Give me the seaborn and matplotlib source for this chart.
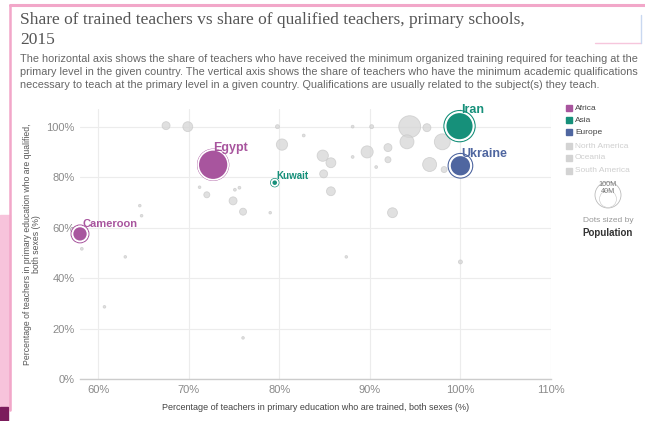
import numpy as np
import pandas as pd
import matplotlib
matplotlib.use("Agg")
import matplotlib.pyplot as plt
from matplotlib.patches import Rectangle, Circle
from matplotlib.lines import Line2D
import seaborn as sns

# highlighted countries
hl_names = ["Egypt", "Iran", "Ukraine", "Cameroon", "Kuwait"]
hl_trained = [72.7, 99.9, 100.0, 58.0, 79.5]
hl_qualified = [84.9, 100.2, 84.5, 57.5, 77.8]
hl_pop = [92, 79, 45, 23, 4]
hl_region = ["Africa", "Asia", "Europe", "Africa", "Asia"]

# all other countries (greyed out)
other_trained = [67.5, 69.9, 79.8, 82.7, 80.3, 84.8, 84.9, 71.2, 72.0, 75.1,
                 75.6, 74.9, 76.0, 79.0, 85.7, 94.4, 96.3, 94.1, 98.0, 88.1,
                 90.2, 92.0, 89.7, 85.7, 88.1, 92.0, 90.7, 96.6, 98.2, 92.5,
                 100.0, 87.4, 64.6, 64.8, 58.2, 63.0, 60.7, 76.0]
other_qualified = [100.4, 100.0, 100.0, 96.5, 92.9, 88.5, 81.3, 76.0, 73.0, 75.0,
                   75.8, 70.6, 66.3, 65.9, 74.4, 100.0, 99.6, 94.0, 94.0, 100.0,
                   100.0, 91.7, 90.0, 85.7, 88.0, 86.9, 84.0, 85.0, 83.0, 65.9,
                   46.4, 48.4, 68.7, 64.7, 51.6, 48.4, 28.6, 16.3]
other_pop = [6.5, 10, 1.6, 0.8, 13, 13, 6.5, 0.7, 3.7, 0.8,
             0.8, 6.5, 5, 0.7, 8, 49, 6.5, 20, 26, 0.8,
             1.6, 6.5, 15, 10, 0.8, 3.7, 0.8, 20, 3.7, 10,
             1.6, 0.7, 0.7, 0.7, 0.8, 0.7, 0.7, 0.7]

regions = ["Africa", "Asia", "Europe", "North America", "Oceania", "South America"]
region_colors = {"Africa": "#a8559e", "Asia": "#16907a", "Europe": "#4f66a0"}
x_ticks = [60, 70, 80, 90, 100, 110]
y_ticks = [0, 20, 40, 60, 80, 100]

hl = pd.DataFrame({"name": hl_names, "trained": hl_trained,
                   "qualified": hl_qualified, "pop": hl_pop, "region": hl_region})
other = pd.DataFrame({"trained": other_trained, "qualified": other_qualified,
                      "pop": other_pop})

sns.set_theme(style="whitegrid")
plt.rcParams["font.family"] = ["Liberation Sans", "DejaVu Sans"]

fig = plt.figure(figsize=(6.45, 4.21), dpi=100)
ax = fig.add_axes([80 / 645, 42 / 421, 471 / 645, 270 / 421])

# area of marker proportional to population
size_max = 506
sns.scatterplot(data=other, x="trained", y="qualified", size="pop",
                sizes=(0, size_max), size_norm=(0, 100), color="#d6d6d6",
                alpha=0.75, edgecolor="#c9c9c9", linewidth=0.6, legend=False,
                ax=ax, zorder=2, clip_on=False)

# outer ring
ring = hl.assign(pop=hl["pop"] * 1.35 + 1.5)
sns.scatterplot(data=ring, x="trained", y="qualified", size="pop",
                sizes=(0, size_max), size_norm=(0, 100), hue="region",
                palette=region_colors, legend=False, ax=ax, zorder=3,
                clip_on=False)
ring_coll = ax.collections[-1]
ring_coll.set_facecolor("none")
ring_coll.set_edgecolor([region_colors[r] for r in hl_region])
ring_coll.set_linewidth(0.8)

sns.scatterplot(data=hl, x="trained", y="qualified", size="pop",
                sizes=(0, size_max), size_norm=(0, 100), hue="region",
                palette=region_colors, edgecolor="white", linewidth=1.2,
                legend=False, ax=ax, zorder=4, clip_on=False)

label_pos = {"Egypt": (72.7, 89.0, 9), "Iran": (100.1, 104.3, 9),
             "Ukraine": (100.1, 86.6, 9), "Cameroon": (58.3, 59.4, 8),
             "Kuwait": (79.7, 78.3, 7)}
for name, region in zip(hl_names, hl_region):
    lx, ly, fs = label_pos[name]
    ax.text(lx, ly, name, color=region_colors[region], fontsize=fs,
            fontweight="bold", ha="left", va="bottom", zorder=5)

ax.set_xlim(58, 110)
ax.set_ylim(0, 107)
ax.set_xticks(x_ticks)
ax.set_yticks(y_ticks)
ax.set_xticklabels([f"{t}%" for t in x_ticks])
ax.set_yticklabels([f"{t}%" for t in y_ticks])
ax.tick_params(axis="both", labelsize=8, labelcolor="#8a8a8a", length=0, pad=4)
ax.grid(color="#ececec", linewidth=0.8)
for side in ["top", "right", "left"]:
    ax.spines[side].set_visible(False)
ax.spines["bottom"].set_color("#cccccc")
ax.spines["bottom"].set_linewidth(1.0)
ax.set_facecolor("white")

ax.set_xlabel("Percentage of teachers in primary education who are trained, both sexes (%)",
              fontsize=6.5, color="#444444", labelpad=6)
ax.set_ylabel("Percentage of teachers in primary education who are qualified,\nboth sexes (%)",
              fontsize=6.2, color="#555555", linespacing=1.0)
ax.yaxis.set_label_coords(-0.082, 0.5)

# title and subtitle
serif = ["Liberation Serif", "DejaVu Serif"]
fig.text(20 / 645, 1 - 20 / 421,
         "Share of trained teachers vs share of qualified teachers, primary schools,",
         fontsize=12.5, color="#555555", family=serif, va="center", ha="left")
fig.text(20 / 645, 1 - 40 / 421, "2015", fontsize=12.5, color="#555555",
         family=serif, va="center", ha="left")
sub_lines = [
    "The horizontal axis shows the share of teachers who have received the minimum organized training required for teaching at the",
    "primary level in the given country. The vertical axis shows the share of teachers who have the minimum academic qualifications",
    "necessary to teach at the primary level in a given country. Qualifications are usually related to the subject(s) they teach.",
]
for line, py in zip(sub_lines, [59, 72, 85]):
    fig.text(20 / 645, 1 - py / 421, line, fontsize=7.8, color="#666666",
             va="center", ha="left")

# colour legend
leg_y = [108, 120, 132, 146, 158, 171]
for region, py in zip(regions, leg_y):
    col = region_colors.get(region, "#d3d3d3")
    tcol = "#444444" if region in region_colors else "#cfcfcf"
    fig.add_artist(Rectangle((566 / 645, 1 - (py + 3) / 421), 6 / 645, 6 / 421,
                             color=col, transform=fig.transFigure))
    fig.text(575 / 645, 1 - py / 421, region, fontsize=6, color=tcol,
             va="center", ha="left")

# size legend
size_ax = fig.add_axes([588 / 645, 1 - 212 / 421, 40 / 645, 36 / 421])
size_ax.set_xlim(-20, 20)
size_ax.set_ylim(-18, 18)
size_ax.set_aspect("equal")
size_ax.axis("off")
size_ax.add_patch(Circle((0, -1), 13, fill=False, edgecolor="#bbbbbb", linewidth=0.6))
size_ax.add_patch(Circle((0, -5), 8.5, fill=False, edgecolor="#d0d0d0", linewidth=0.5))
size_ax.text(0, 10, "100M", fontsize=5.2, color="#777777", ha="center", va="center")
size_ax.text(0, 2.5, "40M", fontsize=5.2, color="#777777", ha="center", va="center")
fig.text(608 / 645, 1 - 221 / 421, "Dots sized by", fontsize=6,
         color="#999999", ha="center", va="center")
fig.text(608 / 645, 1 - 233 / 421, "Population", fontsize=7,
         color="#333333", ha="center", va="center", fontweight="bold")

# screenshot frame decorations
fig.add_artist(Line2D([10 / 645, 1], [1 - 5 / 421, 1 - 5 / 421], color="#f2a7c9",
                      linewidth=2.2, transform=fig.transFigure))
fig.add_artist(Line2D([10 / 645, 10 / 645], [1 - 5 / 421, 1 - 410 / 421],
                      color="#f2a7c9", linewidth=1.8, transform=fig.transFigure))
fig.add_artist(Rectangle((0, 11 / 421), 10 / 645, 195 / 421, color="#f7c3db",
                         transform=fig.transFigure))
fig.add_artist(Rectangle((0, 0), 8 / 645, 14 / 421, color="#7b1c5c",
                         transform=fig.transFigure))
fig.add_artist(Line2D([595 / 645, 641 / 645], [1 - 43 / 421, 1 - 43 / 421],
                      color="#f6c6dc", linewidth=1.0, transform=fig.transFigure))
fig.add_artist(Line2D([641 / 645, 641 / 645], [1 - 15 / 421, 1 - 43 / 421],
                      color="#c9d8f0", linewidth=1.0, transform=fig.transFigure))

fig.savefig("out.png", dpi=100, facecolor="white")
